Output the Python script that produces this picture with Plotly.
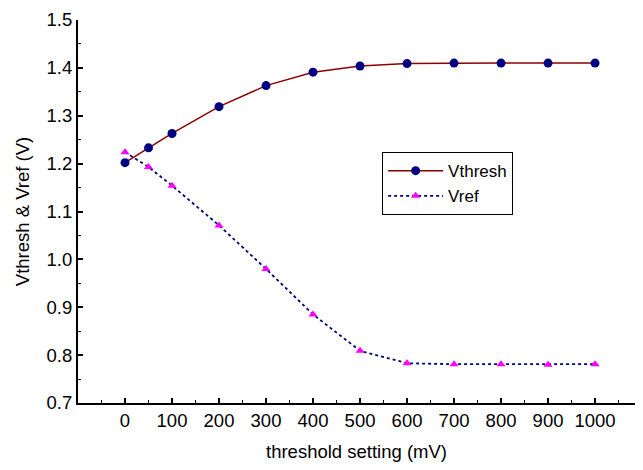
import plotly.graph_objects as go

threshold = [0, 50, 100, 200, 300, 400, 500, 600, 700, 800, 900, 1000]
vthresh = [1.202, 1.233, 1.263, 1.319, 1.363, 1.391, 1.404, 1.409, 1.410, 1.410, 1.410, 1.410]
vref = [1.224, 1.193, 1.154, 1.071, 0.980, 0.885, 0.809, 0.783, 0.781, 0.781, 0.780, 0.781]
x_ticks = [0, 100, 200, 300, 400, 500, 600, 700, 800, 900, 1000]
y_ticks = [0.7, 0.8, 0.9, 1.0, 1.1, 1.2, 1.3, 1.4, 1.5]

fig = go.Figure()
fig.add_trace(go.Scatter(
    x=threshold, y=vthresh, name="Vthresh", mode="lines+markers",
    line=dict(color="#8B0000", width=1.5),
    marker=dict(symbol="circle", color="#000080", size=9),
))
fig.add_trace(go.Scatter(
    x=threshold, y=vref, name="Vref", mode="lines+markers",
    line=dict(color="#000080", width=1.8, dash="dot"),
    marker=dict(symbol="triangle-up", color="#FF00FF", size=8),
))

FS = 18.5
font_family = "Liberation Sans, Arial, sans-serif"
fig.update_layout(
    width=627, height=454,
    margin=dict(l=70, r=0, t=12, b=59),
    plot_bgcolor="white", paper_bgcolor="white",
    font=dict(family=font_family, size=FS, color="black"),
    showlegend=True,
    legend=dict(x=0.546, y=0.655, xanchor="left", yanchor="top",
                bordercolor="black", borderwidth=1, bgcolor="white",
                font=dict(size=17), tracegroupgap=0, itemwidth=55),
)
fig.update_xaxes(
    range=[-100, 1085], tickvals=x_ticks, ticktext=[str(v) for v in x_ticks],
    showline=True, linecolor="black", linewidth=2, showgrid=False, zeroline=False,
    ticks="inside", ticklen=5, tickwidth=1.5, tickcolor="black",
    minor=dict(ticks="inside", ticklen=3, tickwidth=1, dtick=50, tick0=-50, tickcolor="black", showgrid=False),
    title=dict(text="threshold setting (mV)", font=dict(size=FS), standoff=15),
    tickfont=dict(size=FS), ticklabeloverflow="allow", automargin=False,
)
fig.update_yaxes(
    range=[0.7, 1.5], tickvals=y_ticks, ticktext=[f"{v:.1f}" for v in y_ticks],
    showline=True, linecolor="black", linewidth=2, showgrid=False, zeroline=False,
    ticks="inside", ticklen=5, tickwidth=1.5, tickcolor="black",
    minor=dict(ticks="inside", ticklen=3, tickwidth=1, dtick=0.05, tick0=0.65, tickcolor="black", showgrid=False),
    title=dict(text="Vthresh & Vref (V)", font=dict(size=FS), standoff=12),
    tickfont=dict(size=FS), ticklabeloverflow="allow", automargin=False,
)

fig.write_html("out.html")
